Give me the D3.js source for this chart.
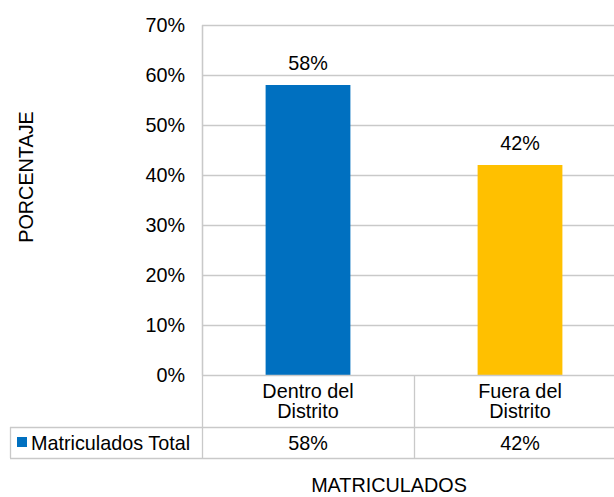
<!DOCTYPE html>
<html>
<head>
<meta charset="utf-8">
<script src="https://cdn.jsdelivr.net/npm/d3@7"></script>
<style>
  body { margin: 0; background: #fff; }
  svg { display: block; font-family: Arial, "Liberation Sans", sans-serif; }
</style>
</head>
<body>
<svg width="614" height="497"></svg>
<script>
"use strict";
// data
var categories = ['Dentro del\nDistrito', 'Fuera del\nDistrito'];
var values = [0.58, 0.42];
var barColors = ['#0070C0', '#FFC000'];
var seriesName = 'Matriculados Total';
var yTicks = [0, 0.1, 0.2, 0.3, 0.4, 0.5, 0.6, 0.7];

var svg = d3.select('svg');
var fs = 19.8;
var grid = '#c9c9c9';

var plotL = 202, plotR = 626, plotT = 25, plotB = 375;
var x = d3.scaleBand().domain(categories).range([plotL, plotR]).padding(0);
var y = d3.scaleLinear().domain([0, 0.7]).range([plotB, plotT]);
var pct = d3.format('.0%');

// gridlines
svg.append('g').selectAll('line')
  .data(yTicks.slice(1))
  .enter().append('line')
  .attr('x1', plotL).attr('x2', plotR)
  .attr('y1', d => y(d) + 0.5).attr('y2', d => y(d) + 0.5)
  .attr('stroke', grid).attr('stroke-width', 1.3);

// y axis
var yAxis = svg.append('g')
  .attr('transform', 'translate(' + plotL + ',0)')
  .call(d3.axisLeft(y).tickValues(yTicks).tickFormat(pct).tickSize(0).tickPadding(17));
yAxis.select('.domain').attr('stroke', grid).attr('stroke-width', 1.3);
yAxis.selectAll('text').attr('font-size', fs).attr('fill', '#000').attr('font-family', 'Arial, "Liberation Sans", sans-serif');

// bars
var bw = x.bandwidth() * 0.4;
svg.append('g').selectAll('rect')
  .data(values)
  .enter().append('rect')
  .attr('x', (d, i) => x(categories[i]) + (x.bandwidth() - bw) / 2)
  .attr('y', d => y(d))
  .attr('width', bw)
  .attr('height', d => y(0) - y(d))
  .attr('fill', (d, i) => barColors[i]);

// data labels
svg.append('g').selectAll('text')
  .data(values)
  .enter().append('text')
  .attr('x', (d, i) => x(categories[i]) + x.bandwidth() / 2)
  .attr('y', d => y(d) - 15)
  .attr('text-anchor', 'middle')
  .attr('font-size', fs)
  .text(d => pct(d));

// data table
var row1 = 427, row2 = 458, legLeft = 10;
var t = svg.append('g').attr('stroke', grid).attr('stroke-width', 1.3);
t.append('line').attr('x1', plotL).attr('x2', plotR).attr('y1', plotB + 0.5).attr('y2', plotB + 0.5);
t.append('line').attr('x1', legLeft).attr('x2', plotR).attr('y1', row1 + 0.5).attr('y2', row1 + 0.5);
t.append('line').attr('x1', legLeft).attr('x2', plotR).attr('y1', row2 + 0.5).attr('y2', row2 + 0.5);
t.append('line').attr('x1', legLeft + 0.5).attr('x2', legLeft + 0.5).attr('y1', row1).attr('y2', row2);
t.selectAll('.v').data(categories.concat(['end']))
  .enter().append('line')
  .attr('x1', (d, i) => plotL + i * x.bandwidth() + 0.5)
  .attr('x2', (d, i) => plotL + i * x.bandwidth() + 0.5)
  .attr('y1', (d, i) => i === 0 ? plotT : plotB)
  .attr('y2', row2);

// category labels
svg.append('g').selectAll('text')
  .data(categories)
  .enter().append('text')
  .attr('x', d => x(d) + x.bandwidth() / 2)
  .attr('y', 398)
  .attr('text-anchor', 'middle')
  .attr('font-size', fs)
  .each(function (d) {
    var el = d3.select(this);
    d.split('\n').forEach((line, k) => {
      el.append('tspan')
        .attr('x', x(d) + x.bandwidth() / 2)
        .attr('dy', k === 0 ? 0 : 20)
        .text(line);
    });
  });

// table values
svg.append('g').selectAll('text')
  .data(values)
  .enter().append('text')
  .attr('x', (d, i) => x(categories[i]) + x.bandwidth() / 2)
  .attr('y', 450)
  .attr('text-anchor', 'middle')
  .attr('font-size', fs)
  .text(d => pct(d));

// legend key
svg.append('rect').attr('x', 17).attr('y', 437).attr('width', 10).attr('height', 10).attr('fill', barColors[0]);
svg.append('text').attr('x', 31).attr('y', 450).attr('font-size', fs).text(seriesName);

// axis titles
svg.append('text')
  .attr('transform', 'translate(33,177) rotate(-90)')
  .attr('text-anchor', 'middle')
  .attr('font-size', fs)
  .text('PORCENTAJE');
svg.append('text')
  .attr('x', 389).attr('y', 492)
  .attr('text-anchor', 'middle')
  .attr('font-size', fs)
  .text('MATRICULADOS');
</script>
</body>
</html>
